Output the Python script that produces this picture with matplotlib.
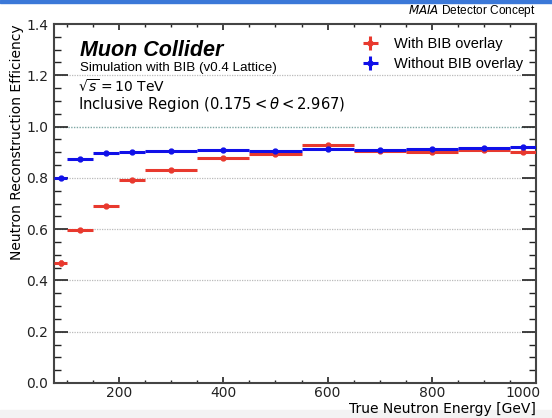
import matplotlib
matplotlib.use("Agg")
import matplotlib.pyplot as plt
import matplotlib.transforms as mtransforms
import numpy as np
from matplotlib.patches import Rectangle

# ---- data ----
bin_lo = [75, 100, 150, 200, 250, 350, 450, 550, 650, 750, 850, 950]
bin_hi = [100, 150, 200, 250, 350, 450, 550, 650, 750, 850, 950, 1000]
eff_bib = [0.469, 0.597, 0.690, 0.790, 0.831, 0.876, 0.894, 0.928, 0.904, 0.902, 0.910, 0.901]
err_bib = [0.012, 0.008, 0.007, 0.007, 0.005, 0.005, 0.005, 0.005, 0.005, 0.005, 0.005, 0.007]
eff_nobib = [0.800, 0.875, 0.898, 0.901, 0.904, 0.908, 0.906, 0.913, 0.910, 0.911, 0.915, 0.919]
err_nobib = [0.006, 0.005, 0.004, 0.004, 0.003, 0.003, 0.003, 0.003, 0.003, 0.003, 0.003, 0.004]
yticks = [0.0, 0.2, 0.4, 0.6, 0.8, 1.0, 1.2, 1.4]
xticks = [200, 400, 600, 800, 1000]

lo = np.array(bin_lo, float)
hi = np.array(bin_hi, float)
xc = (lo + hi) / 2
xe = (hi - lo) / 2

red = '#e8392e'
blue = '#1010e8'
sans = ['Liberation Sans', 'DejaVu Sans']

fig = plt.figure(figsize=(5.52, 4.18), dpi=100)
# screenshot-like artifacts
fig.patches.append(Rectangle((0, 1 - 3/418), 1, 3/418, transform=fig.transFigure,
                             color='#3b78d8', zorder=-5))
fig.patches.append(Rectangle((0, 0), 1, 8/418, transform=fig.transFigure,
                             color='#f3f3f3', zorder=-5))

ax = fig.add_axes([54/552, 1 - 383/418, (536 - 54)/552, (383 - 24)/418])
ax.patch.set_alpha(0)

for y in [0.2, 0.4, 0.6, 0.8, 1.2]:
    ax.axhline(y, color='#bbbbbb', lw=0.9, ls=(0, (1, 1)), zorder=1)
ax.axhline(1.0, color='#7fa7a4', lw=1.0, ls=(0, (1, 1)), zorder=1)

h1 = ax.errorbar(xc, eff_bib, xerr=xe, yerr=err_bib, fmt='o', color=red, ms=3.5,
                 elinewidth=2.2, capsize=0, label='With BIB overlay', zorder=3)
h2 = ax.errorbar(xc, eff_nobib, xerr=xe, yerr=err_nobib, fmt='o', color=blue, ms=3.5,
                 elinewidth=2.2, capsize=0, label='Without BIB overlay', zorder=4)

ax.set_xlim(75, 1000)
ax.set_ylim(0, 1.4)
ax.set_xticks(xticks)
ax.set_yticks(yticks)
ax.set_yticklabels([f'{v:.1f}' for v in yticks])
ax.xaxis.set_minor_locator(matplotlib.ticker.MultipleLocator(50))
ax.yaxis.set_minor_locator(matplotlib.ticker.MultipleLocator(0.05))
ax.tick_params(axis='both', which='both', direction='in', top=True, right=True,
               labelsize=10, colors='#222222')
ax.tick_params(axis='x', which='major', length=4, width=1.2, pad=2)
ax.tick_params(axis='x', which='minor', length=2.5, width=1.0)
ax.tick_params(axis='y', which='major', length=10, width=1.2, pad=4)
ax.tick_params(axis='y', which='minor', length=5, width=1.0)
for s in ax.spines.values():
    s.set_linewidth(1.5)
    s.set_color('#444444')

# shift last x tick label left so it stays inside the figure
fig.canvas.draw()
last = ax.get_xticklabels()[-1]
last.set_transform(last.get_transform() +
                   mtransforms.ScaledTranslation(-0.13, 0, fig.dpi_scale_trans))

ax.set_xlabel('True Neutron Energy [GeV]', fontsize=10, loc='right')
ax.xaxis.set_label_coords(1.0, -0.052)
ax.set_ylabel('Neutron Reconstruction Efficiency', fontsize=10, loc='top', labelpad=1.5)

ax.text(0.054, 0.926, 'Muon Collider', transform=ax.transAxes, fontsize=15.5,
        fontweight='bold', fontstyle='italic', va='center', family=sans)
ax.text(0.054, 0.877, 'Simulation with BIB (v0.4 Lattice)', transform=ax.transAxes,
        fontsize=9.6, va='center', family=sans)
ax.text(0.05, 0.826, r'$\sqrt{s} = 10$ TeV', transform=ax.transAxes, fontsize=10, va='center')
ax.text(0.05, 0.777, r'Inclusive Region ($0.175 < \theta < 2.967$)', transform=ax.transAxes,
        fontsize=10.6, va='center')
ax.text(1.0, 1.014, r'$\it{MAIA}$ Detector Concept', transform=ax.transAxes,
        fontsize=8.6, ha='right', va='bottom', family=sans)

leg = ax.legend(handles=[h1, h2], loc='upper right', frameon=False,
                prop={'family': sans, 'size': 10.5},
                bbox_to_anchor=(1.0, 1.0), handletextpad=0.6, borderaxespad=0.5,
                labelspacing=0.4)

fig.savefig('out.png', dpi=100)
